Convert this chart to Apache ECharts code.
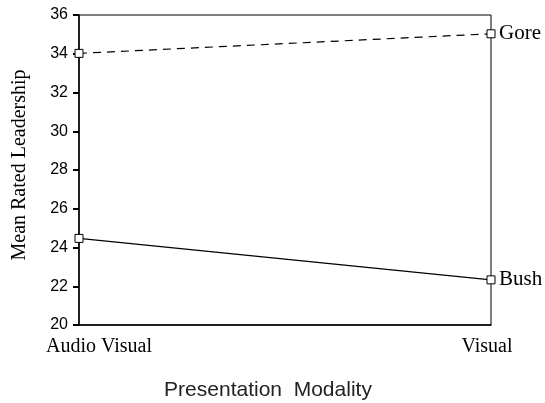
<!DOCTYPE html>
<html><head><meta charset="utf-8">
<script src="https://cdn.jsdelivr.net/npm/echarts@6/dist/echarts.min.js"></script>
<style>html,body{margin:0;padding:0;background:#fff}#c{width:545px;height:403px}</style>
</head><body><div id="c"></div>
<script>
const categories = ['Audio Visual', 'Visual'];
const gore = [34.02, 35.03];
const bush = [24.47, 22.33];
const yTicks = { min: 20, max: 36, interval: 2 };

const chart = echarts.init(document.getElementById('c'), null, { renderer: 'canvas' });
const serif = 'Liberation Serif';
const sans = 'Liberation Sans';
function mkSeries(name, data, dashed) {
  return {
    name, type: 'line', data,
    symbol: 'rect', symbolSize: 8,
    itemStyle: { color: '#fff', borderColor: '#000', borderWidth: 1 },
    lineStyle: { color: '#000', width: 1.2, type: dashed ? [8, 6] : 'solid' },
    endLabel: { show: true, formatter: '{a}', fontFamily: serif, fontSize: 21, color: '#000', distance: 8 },
    emphasis: { disabled: true }, animation: false, silent: true
  };
}
chart.setOption({
  animation: false,
  grid: { left: 79, right: 54, top: 15, bottom: 78, outerBoundsMode: 'none', containLabel: false, show: true, borderColor: '#000', borderWidth: 1, backgroundColor: 'transparent' },
  xAxis: {
    type: 'category', data: categories, boundaryGap: false,
    axisLine: { lineStyle: { color: '#000', width: 1.5 } },
    axisTick: { show: false },
    axisLabel: {
      margin: 12, color: '#000',
      formatter: (v, i) => i === 0 ? '{a|' + v + '}' : '{b|' + v + '}',
      rich: {
        a: { fontFamily: serif, fontSize: 20, color: '#000', padding: [0, 0, 0, 40] },
        b: { fontFamily: serif, fontSize: 20, color: '#000', padding: [0, 8, 0, 0] }
      }
    },
    name: 'Presentation  Modality', nameLocation: 'middle', nameGap: 55,
    nameTextStyle: { fontFamily: sans, fontSize: 21, color: '#222', padding: [0, 34, 0, 0] },
    splitLine: { show: false }
  },
  yAxis: {
    type: 'value', min: yTicks.min, max: yTicks.max, interval: yTicks.interval,
    axisLine: { show: true, lineStyle: { color: '#000', width: 1.5 } },
    axisTick: { show: true, length: 6, lineStyle: { color: '#000', width: 2 } },
    axisLabel: { color: '#000', fontFamily: sans, fontSize: 16, margin: 11 },
    splitLine: { show: false },
    name: 'Mean Rated Leadership', nameLocation: 'middle', nameGap: 49,
    nameTextStyle: { fontFamily: serif, fontSize: 20, color: '#000', padding: [0, 0, 0, 10] }
  },
  series: [mkSeries('Gore', gore, true), mkSeries('Bush', bush, false)]
});
</script></body></html>
